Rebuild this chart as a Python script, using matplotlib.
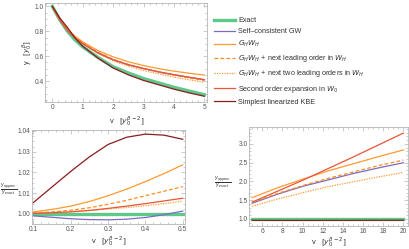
import matplotlib
matplotlib.use("Agg")
import matplotlib.pyplot as plt
from matplotlib.ticker import MultipleLocator

plt.rcParams["font.family"] = ["Liberation Sans", "DejaVu Sans"]
plt.rcParams["mathtext.fontset"] = "dejavusans"

# top panel: y(v)
v_top = [0, 0.25, 0.5, 0.75, 1, 1.5, 2, 2.5, 3, 3.5, 4, 4.5, 5]
top_exact = [1.0, 0.89, 0.80, 0.73, 0.675, 0.59, 0.515, 0.465, 0.42, 0.385, 0.35, 0.32, 0.29]
top_scgw = [1.0, 0.89, 0.805, 0.745, 0.70, 0.625, 0.57, 0.53, 0.50, 0.473, 0.45, 0.43, 0.41]
top_ghwh = [1.0, 0.895, 0.815, 0.76, 0.715, 0.645, 0.595, 0.555, 0.525, 0.50, 0.48, 0.463, 0.448]
top_next1 = [1.0, 0.892, 0.81, 0.75, 0.705, 0.632, 0.575, 0.533, 0.50, 0.472, 0.448, 0.425, 0.405]
top_next2 = [1.0, 0.891, 0.806, 0.745, 0.70, 0.622, 0.562, 0.52, 0.485, 0.457, 0.432, 0.41, 0.39]
top_second = [1.0, 0.891, 0.807, 0.747, 0.702, 0.628, 0.572, 0.532, 0.502, 0.475, 0.452, 0.431, 0.412]
top_kbe = [1.0, 0.905, 0.83, 0.745, 0.68, 0.585, 0.505, 0.45, 0.405, 0.37, 0.335, 0.305, 0.278]

# bottom left: ratio y_approx / y_exact for small v
v_small = [0.10, 0.15, 0.20, 0.25, 0.30, 0.35, 0.40, 0.45, 0.50]
small_exact = [1.0, 1.0, 1.0, 1.0, 1.0, 1.0, 1.0, 1.0, 1.0]
small_scgw = [0.9991, 0.9984, 0.9977, 0.9973, 0.9972, 0.9975, 0.9983, 0.9997, 1.0014]
small_ghwh = [1.001, 1.0022, 1.0038, 1.006, 1.0088, 1.012, 1.0156, 1.0195, 1.0237]
small_next1 = [1.0005, 1.001, 1.0018, 1.003, 1.0047, 1.0066, 1.0088, 1.011, 1.0132]
small_next2 = [1.0006, 1.0008, 1.0012, 1.0017, 1.0024, 1.0031, 1.004, 1.005, 1.0062]
small_second = [1.0003, 1.0006, 1.001, 1.0017, 1.0027, 1.0038, 1.005, 1.0063, 1.0076]
small_kbe = [1.0055, 1.013, 1.0205, 1.0275, 1.0335, 1.037, 1.0385, 1.038, 1.036]

# bottom right: ratio for large v
v_large = [5, 7.5, 10, 12.5, 15, 17.5, 20]
large_exact = [1.0, 1.0, 1.0, 1.0, 1.0, 1.0, 1.0]
large_scgw = [1.42, 1.66, 1.87, 2.04, 2.21, 2.36, 2.5]
large_ghwh = [1.57, 1.83, 2.06, 2.28, 2.47, 2.66, 2.84]
large_next1 = [1.44, 1.68, 1.89, 2.08, 2.25, 2.42, 2.57]
large_next2 = [1.34, 1.53, 1.70, 1.86, 1.99, 2.12, 2.24]
large_second = [1.45, 1.74, 2.03, 2.34, 2.65, 2.97, 3.29]
large_kbe = [0.965, 0.962, 0.962, 0.963, 0.964, 0.965, 0.966]

labels = ["Exact", "Self\u2013consistent GW", r"$G_HW_H$",
          r"$G_HW_H$ + next leading order in $W_H$",
          r"$G_HW_H$ + next two leading orders in $W_H$",
          r"Second order expansion in $W_0$",
          "Simplest linearized KBE"]
styles = [
    dict(color="#5cc88a", lw=2.4, ls="-"),
    dict(color="#7a6cc0", lw=0.9, ls="-"),
    dict(color="#ff9a2e", lw=0.9, ls="-"),
    dict(color="#ff8c1a", lw=0.9, ls=(0, (3, 1.8))),
    dict(color="#ff9933", lw=0.9, ls=(0, (1, 1))),
    dict(color="#e8553a", lw=0.9, ls="-"),
    dict(color="#8b1c1c", lw=0.9, ls="-"),
]

W, H = 409, 249
fig = plt.figure(figsize=(4.09, 2.49), dpi=100)
ax1 = fig.add_axes([0.111, 0.590, 0.396, 0.398])
ax2 = fig.add_axes([0.0775, 0.1004, 0.375, 0.3775])
ax3 = fig.add_axes([0.6095, 0.0924, 0.3888, 0.3964])


def draw(ax, x, series):
    handles = []
    for y, st in zip(series, styles):
        h, = ax.plot(x, y, **st)
        handles.append(h)
    return handles


def style_axis(ax):
    for s in ax.spines.values():
        s.set_color("#b5b5b5")
        s.set_linewidth(0.6)
    ax.tick_params(which="both", direction="in", colors="#b5b5b5", labelcolor="#555555",
                   labelsize=4.8, width=0.5, pad=1.2, top=True, right=True)
    ax.tick_params(which="major", length=3)
    ax.tick_params(which="minor", length=1.5)


def vlabel(ax, y_px):
    # x-axis label, top edge placed at a pixel row of the figure
    pos = ax.get_position()
    bottom_px = (1 - pos.y0) * H
    ax.set_xlabel(r"v   $[y_0^{\beta-2}]$", fontsize=5.4, color="#333333", va="top")
    ax.xaxis.set_label_coords(0.5, -(y_px - bottom_px) / (pos.height * H))


handles = draw(ax1, v_top, [top_exact, top_scgw, top_ghwh, top_next1, top_next2, top_second, top_kbe])
ax1.set_xlim(-0.23, 5.1)
ax1.set_ylim(0.231, 1.028)
ax1.xaxis.set_major_locator(MultipleLocator(1))
ax1.xaxis.set_minor_locator(MultipleLocator(0.2))
ax1.yaxis.set_major_locator(MultipleLocator(0.2))
ax1.yaxis.set_minor_locator(MultipleLocator(0.05))
vlabel(ax1, 114)
ax1.set_ylabel(r"y   $[y_0^{\beta}]$", fontsize=5.2, color="#333333", va="center")
ax1.yaxis.set_label_coords(-(45.5 - 27) / (0.396 * W), 0.5)
style_axis(ax1)

draw(ax2, v_small, [small_exact, small_scgw, small_ghwh, small_next1, small_next2, small_second, small_kbe])
ax2.set_xlim(0.0957, 0.5062)
ax2.set_ylim(0.99518, 1.04048)
ax2.xaxis.set_major_locator(MultipleLocator(0.1))
ax2.xaxis.set_minor_locator(MultipleLocator(0.02))
ax2.yaxis.set_major_locator(MultipleLocator(0.01))
ax2.yaxis.set_minor_locator(MultipleLocator(0.0025))
ax2.yaxis.set_major_formatter(plt.FormatStrFormatter("%.2f"))
vlabel(ax2, 234)
style_axis(ax2)

draw(ax3, v_large, [large_exact, large_scgw, large_ghwh, large_next1, large_next2, large_second, large_kbe])
ax3.set_xlim(4.71, 20.49)
ax3.set_ylim(0.813, 3.445)
ax3.xaxis.set_major_locator(MultipleLocator(2))
ax3.xaxis.set_minor_locator(MultipleLocator(0.5))
ax3.yaxis.set_major_locator(MultipleLocator(0.5))
ax3.yaxis.set_minor_locator(MultipleLocator(0.1))
vlabel(ax3, 235)
style_axis(ax3)

frac = r"$\frac{y_{\mathrm{approx}}}{y_{\mathrm{exact}}}$"
fig.text(9 / W, 1 - 190 / H, frac, fontsize=5, color="#333333", ha="center", va="center")
fig.text(223 / W, 1 - 183 / H, frac, fontsize=5, color="#333333", ha="center", va="center")

fig.legend(handles, labels, loc="upper left", bbox_to_anchor=(214 / W, 1 - 17 / H),
           frameon=False, fontsize=5.2, handlelength=2.9, handletextpad=0.45,
           labelspacing=0.56, borderpad=0, borderaxespad=0, labelcolor="#333333")

fig.savefig("out.png", dpi=100)
